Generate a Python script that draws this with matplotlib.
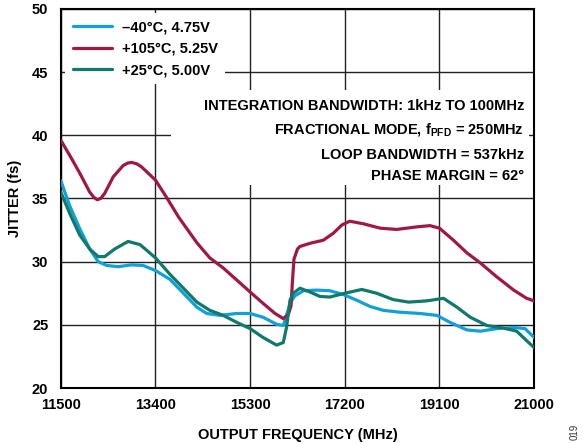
import matplotlib
matplotlib.use('Agg')
import matplotlib.pyplot as plt
from matplotlib.patches import Rectangle

plt.rcParams['font.family'] = ['Liberation Sans', 'DejaVu Sans']
plt.rcParams['font.weight'] = 'bold'
plt.rcParams['mathtext.fontset'] = 'custom'
plt.rcParams['mathtext.bf'] = 'Liberation Sans:bold'
plt.rcParams['mathtext.rm'] = 'Liberation Sans:bold'

# -- data --------------------------------------------------------
freq_cold = [11500, 11680, 11880, 12080, 12250, 12420, 12650, 12920, 13150,
             13400, 13690, 13960, 14230, 14430, 14690, 15030, 15300, 15560,
             15830, 15965, 16065, 16130, 16200, 16370, 16640, 16900, 17170,
             17440, 17710, 17970, 18310, 18710, 19050, 19310, 19650, 19920,
             20250, 20590, 20820, 21000]
jit_cold = [36.4, 34.4, 32.6, 31.0, 30.0, 29.7, 29.6, 29.75, 29.7,
            29.3, 28.6, 27.5, 26.4, 25.9, 25.75, 25.9, 25.9, 25.6,
            25.05, 24.95, 26.2, 26.9, 27.3, 27.7, 27.75, 27.7, 27.4,
            26.95, 26.45, 26.15, 26.0, 25.9, 25.75, 25.2, 24.6, 24.5,
            24.7, 24.8, 24.7, 24.0]

freq_hot = [11500, 11680, 11880, 12080, 12160, 12230, 12300, 12380, 12550,
            12750, 12840, 12920, 13020, 13120, 13400, 13620, 13860, 14230,
            14490, 14760, 15030, 15300, 15560, 15800, 15965, 16065, 16120,
            16150, 16180, 16250, 16300, 16500, 16770, 16970, 17140, 17300,
            17570, 17910, 18240, 18640, 18910, 19100, 19380, 19650, 19920,
            20250, 20590, 20850, 21000]
jit_hot = [39.6, 38.4, 37.0, 35.5, 35.1, 34.9, 35.0, 35.4, 36.7,
           37.6, 37.8, 37.85, 37.75, 37.5, 36.45, 35.1, 33.55, 31.5,
           30.3, 29.5, 28.55, 27.6, 26.7, 25.9, 25.5, 25.8, 26.5,
           28.5, 30.2, 31.0, 31.2, 31.45, 31.7, 32.25, 32.9, 33.2,
           33.0, 32.65, 32.55, 32.75, 32.85, 32.65, 31.7, 30.7, 29.9,
           28.8, 27.75, 27.1, 26.9]

freq_room = [11500, 11680, 11880, 12080, 12250, 12380, 12580, 12850, 13090,
             13400, 13690, 13960, 14230, 14490, 14760, 15030, 15300, 15560,
             15830, 15965, 16030, 16100, 16165, 16300, 16500, 16700, 16900,
             17200, 17540, 17840, 18170, 18480, 18850, 19180, 19450, 19720,
             20050, 20380, 20650, 20850, 21000]
jit_room = [35.5, 33.8, 32.1, 31.0, 30.4, 30.4, 31.0, 31.6, 31.35,
            30.3, 29.0, 27.9, 26.8, 26.15, 25.75, 25.2, 24.7, 24.0,
            23.4, 23.6, 24.8, 26.95, 27.5, 27.9, 27.6, 27.25, 27.2,
            27.5, 27.8, 27.5, 27.0, 26.8, 26.9, 27.1, 26.4, 25.6,
            24.95, 24.75, 24.5, 23.75, 23.2]

labels = ['–40°C, 4.75V', '+105°C, 5.25V', '+25°C, 5.00V']
colors = ['#12a0d8', '#9e1848', '#10796c']
xticks = [11500, 13400, 15300, 17200, 19100, 21000]
yticks = [20, 25, 30, 35, 40, 45, 50]
notes = ['INTEGRATION BANDWIDTH: 1kHz TO 100MHz',
         r'FRACTIONAL MODE, f$_{\mathbf{PFD}}$ = 250MHz',
         'LOOP BANDWIDTH = 537kHz',
         'PHASE MARGIN = 62°']

fig = plt.figure(figsize=(5.85, 4.44), dpi=100)
ax = fig.add_axes([0.104, 0.126, 0.809, 0.854])

ax.set_xlim(11500, 21000)
ax.set_ylim(20, 50)
ax.set_xticks(xticks)
ax.set_yticks(yticks)
ax.tick_params(length=0, labelsize=10.5)
ax.tick_params(axis='y', pad=9)
ax.tick_params(axis='x', pad=7)
ax.set_axisbelow(True)
ax.grid(True, color='#222222', lw=1.0)
for s in ax.spines.values():
    s.set_linewidth(1.5)
    s.set_color('black')

# white area behind the notes (hides the grid)
ax.add_patch(Rectangle((0.233, 0.536), 0.757, 0.25, transform=ax.transAxes,
                       facecolor='white', edgecolor='none', zorder=1))

for f, j, c, lab in zip([freq_cold, freq_hot, freq_room],
                        [jit_cold, jit_hot, jit_room], colors, labels):
    ax.plot(f, j, color=c, lw=2.3, label=lab, zorder=3,
            solid_capstyle='round', solid_joinstyle='round')

leg = ax.legend(loc='upper left', fontsize=10.5, frameon=True, fancybox=False,
                borderaxespad=0.3, handlelength=2.7, handletextpad=0.7,
                labelspacing=0.5, borderpad=0.5)
leg.get_frame().set_edgecolor('none')
leg.get_frame().set_facecolor('white')
leg.get_frame().set_alpha(1)

note_y = [0.745, 0.68, 0.614, 0.558]
for t, yy in zip(notes, note_y):
    ax.text(0.979, yy, t, transform=ax.transAxes, ha='right', va='center',
            fontsize=10.5, fontweight='bold', zorder=2)

ax.set_xlabel('OUTPUT FREQUENCY (MHz)', fontsize=10.5, fontweight='bold', labelpad=12)
ax.set_ylabel('JITTER (fs)', fontsize=10.5, fontweight='bold', labelpad=7)

fig.text(0.982, 0.01, '019', rotation=90, fontsize=7, fontweight='normal',
         color='#333333', ha='center', va='bottom')

fig.savefig('out.png', dpi=100)
